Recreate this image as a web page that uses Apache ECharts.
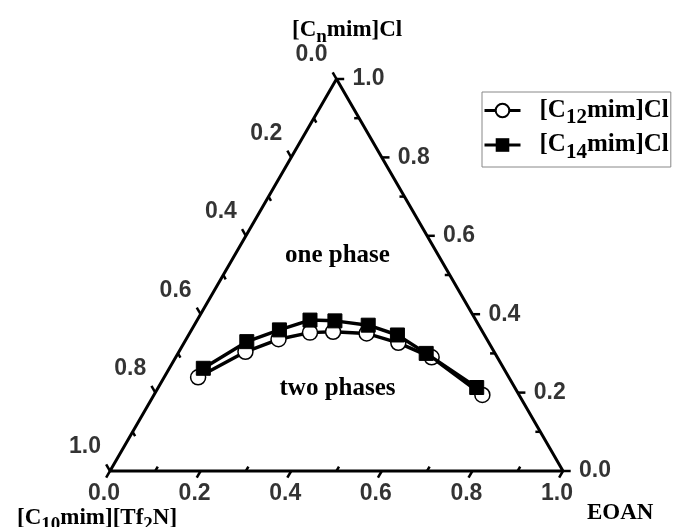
<!DOCTYPE html>
<html><head><meta charset="utf-8">
<script src="https://cdn.jsdelivr.net/npm/echarts@6/dist/echarts.min.js"></script>
<style>html,body{margin:0;padding:0;background:#fff}#c{width:675px;height:527px}</style>
</head><body><div id="c"></div>
<script>
// ---- data ----
const majorTicks = [0.0, 0.2, 0.4, 0.6, 0.8, 1.0];
const minorTicks = [0.1, 0.3, 0.5, 0.7, 0.9];
const tickLabels = ['0.0', '0.2', '0.4', '0.6', '0.8', '1.0'];
const seriesNames = ['[C12mim]Cl', '[C14mim]Cl'];
// mole fractions: EOAN and [Cnmim]Cl (remainder = [C10mim][Tf2N])
const eoanC12 = [0.075, 0.147, 0.204, 0.265, 0.315, 0.391, 0.473, 0.565, 0.725];
const cnC12   = [0.239, 0.304, 0.336, 0.353, 0.355, 0.351, 0.327, 0.290, 0.194];
const eoanC14 = [0.075, 0.137, 0.194, 0.249, 0.305, 0.384, 0.461, 0.548, 0.703];
const cnC14   = [0.262, 0.330, 0.360, 0.385, 0.383, 0.372, 0.347, 0.300, 0.213];

// ---- ternary -> cartesian ----
const S = Math.sqrt(3) / 2;
const toXY = (e, c) => [e + c / 2, c * S];
const edges = {
  bottom: { at: v => toXY(v, 0),     out: [-0.5, -S] },
  right:  { at: v => toXY(1 - v, v), out: [1, 0] },
  left:   { at: v => toXY(0, 1 - v), out: [-0.5, S] }
};
const MAJ = 0.017, MIN = 0.011;
const tickSegs = [];
Object.values(edges).forEach(ed => {
  majorTicks.forEach(v => { const p = ed.at(v); tickSegs.push([p[0], p[1], p[0] + ed.out[0] * MAJ, p[1] + ed.out[1] * MAJ]); });
  minorTicks.forEach(v => { const p = ed.at(v); tickSegs.push([p[0], p[1], p[0] - ed.out[0] * MIN, p[1] - ed.out[1] * MIN]); });
});
const triangle = [toXY(0, 0), toXY(1, 0), toXY(0, 1), toXY(0, 0)];

const serif = 'Liberation Serif';
const sans = 'Liberation Sans';
const rich = {
  b: { fontFamily: serif, fontWeight: 'bold', fontSize: 23, color: '#000' },
  s: { fontFamily: serif, fontWeight: 'bold', fontSize: 19, color: '#000', verticalAlign: 'bottom', lineHeight: 34 }
};
const legendRich = {
  b: { fontFamily: serif, fontWeight: 'bold', fontSize: 25, color: '#000' },
  s: { fontFamily: serif, fontWeight: 'bold', fontSize: 21, color: '#000', verticalAlign: 'bottom', lineHeight: 36 }
};
const subFmt = name => '{b|' + name.replace(/(\d+)/g, '}{s|$1}{b|') + '}';

function labelSeries(edgeKey, offset) {
  return {
    type: 'scatter', symbolSize: 0, silent: true, z: 5,
    data: majorTicks.map(v => edges[edgeKey].at(v)),
    label: {
      show: true, position: 'inside', offset: offset,
      formatter: p => tickLabels[p.dataIndex],
      fontFamily: sans, fontWeight: 'bold', fontSize: 23, color: '#000'
    }
  };
}

const phaseStyle = { p: { fontFamily: serif, fontWeight: 'bold', fontSize: 25, color: '#000' } };

const chart = echarts.init(document.getElementById('c'), null, { renderer: 'canvas' });
chart.setOption({
  animation: false,
  backgroundColor: '#fff',
  grid: { left: 110, top: 79, width: 453, height: 392 },
  xAxis: { type: 'value', min: 0, max: 1, show: false },
  yAxis: { type: 'value', min: 0, max: S, show: false },
  title: [
    { text: '{b|[C}{s|n}{b|mim]Cl}', left: 287, top: 8, textStyle: { rich } },
    { text: subFmt('[C10mim][Tf2N]'), left: 12, top: 496, textStyle: { rich } },
    { text: '{b|EOAN}', left: 582, top: 497, textStyle: { rich } },
    { text: '{p|one phase}', left: 'center', top: 238, textStyle: { rich: phaseStyle } },
    { text: '{p|two phases}', left: 'center', top: 371, textStyle: { rich: phaseStyle } }
  ],
  legend: {
    orient: 'vertical', left: 482, top: 92,
    borderColor: '#888', borderWidth: 1, padding: [6, 2, 4, 1],
    itemWidth: 36, itemHeight: 17, itemGap: 4,
    data: seriesNames,
    formatter: subFmt,
    lineStyle: { width: 3 },
    textStyle: { rich: legendRich, padding: [0, 0, 0, 14] }
  },
  series: [
    { type: 'line', data: triangle, symbol: 'none', lineStyle: { color: '#000', width: 3 }, silent: true, clip: false },
    {
      type: 'custom', data: tickSegs, clip: false, silent: true,
      encode: { x: [0, 2], y: [1, 3] },
      renderItem: (params, api) => {
        const a = api.coord([api.value(0), api.value(1)]);
        const b = api.coord([api.value(2), api.value(3)]);
        return { type: 'line', shape: { x1: a[0], y1: a[1], x2: b[0], y2: b[1] }, style: { stroke: '#000', lineWidth: 2.5 } };
      }
    },
    labelSeries('bottom', [-6, 23]),
    labelSeries('right', [32, 0]),
    labelSeries('left', [-25, -24]),
    {
      name: seriesNames[0], type: 'line', clip: false,
      data: eoanC12.map((e, i) => toXY(e, cnC12[i])),
      symbol: 'circle', symbolSize: 15,
      lineStyle: { color: '#000', width: 3.5 },
      itemStyle: { color: '#fff', borderColor: '#000', borderWidth: 1.5 }, z: 3
    },
    {
      name: seriesNames[1], type: 'line', clip: false,
      data: eoanC14.map((e, i) => toXY(e, cnC14[i])),
      symbol: 'rect', symbolSize: 14,
      lineStyle: { color: '#000', width: 3.5 },
      itemStyle: { color: '#000', borderColor: '#000' }, z: 4
    }
  ]
});
</script></body></html>
